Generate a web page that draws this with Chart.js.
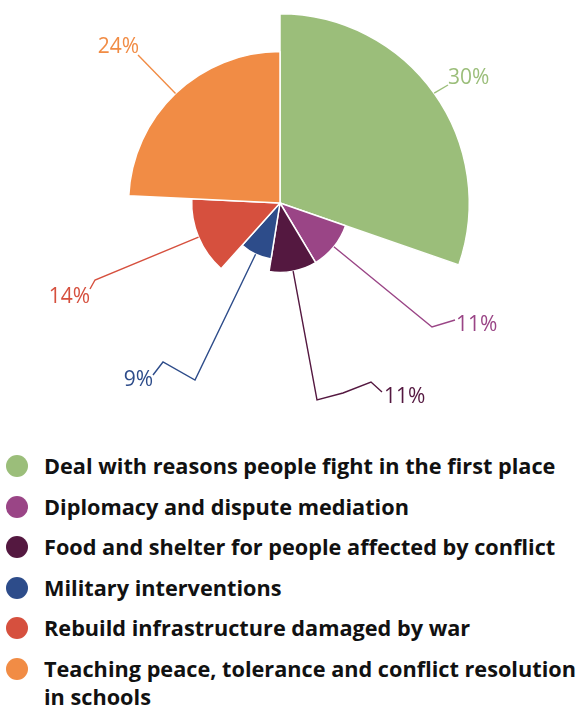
<!DOCTYPE html>
<html>
<head>
<meta charset="utf-8">
<script src="https://cdn.jsdelivr.net/npm/chart.js@4"></script>
<style>
body { margin: 0; background: #fff; font-family: "Open Sans", sans-serif; overflow: hidden; }
#wrap { position: relative; width: 579px; height: 430px; }
#legend { position: absolute; left: 0; top: 452px; width: 600px; }
.item { display: flex; align-items: flex-start; min-height: 40.5px; font-weight: 700; font-size: 21.7px; color: #111; line-height: 28px; }
.dot { flex: none; width: 22px; height: 22px; border-radius: 50%; margin: 3px 0 0 6px; }
.txt { margin-left: 16px; width: 540px; }
</style>
</head>
<body>
<div id="wrap"><canvas id="chart" width="579" height="430"></canvas></div>
<div id="legend"></div>
<script>
const categories = [
    'Deal with reasons people fight in the first place',
    'Diplomacy and dispute mediation',
    'Food and shelter for people affected by conflict',
    'Military interventions',
    'Rebuild infrastructure damaged by war',
    'Teaching peace, tolerance and conflict resolution in schools',
]
const shares = [30, 11, 11, 9, 14, 24]
const colors = ['#9bbe7a', '#9a4586', '#541840', '#2d4c8a', '#d6503e', '#f18c45']

// leader line bends and label anchors, relative to the pie centre (px)
const leaders = [
    {bends: [[168, -118]], label: [168, -125], align: 'left'},
    {bends: [[152, 124], [175, 117]], label: [176, 122], align: 'left'},
    {bends: [[37, 197], [63, 190], [91, 179], [102, 189]], label: [104, 194], align: 'left'},
    {bends: [[-85, 177], [-117, 159], [-127, 172]], label: [-127, 177], align: 'right'},
    {bends: [[-185, 77], [-190, 86]], label: [-190, 94], align: 'right'},
    {bends: [[-142, -148]], label: [-141, -156], align: 'right'},
]

// scale each slice's radius by its share
const radialSlices = {
    id: 'radialSlices',
    afterDatasetsUpdate(chart) {
        const maxShare = Math.max(...shares)
        chart.getDatasetMeta(0).data.forEach(function (arc, i) {
            arc.outerRadius = arc.outerRadius * shares[i] / maxShare
        })
    }
}

const leaderLabels = {
    id: 'leaderLabels',
    afterDatasetsDraw(chart) {
        const ctx = chart.ctx
        chart.getDatasetMeta(0).data.forEach(function (arc, i) {
            const mid = (arc.startAngle + arc.endAngle) / 2
            const cx = arc.x, cy = arc.y
            const lead = leaders[i]
            ctx.save()
            ctx.strokeStyle = colors[i]
            ctx.lineWidth = 1.4
            ctx.beginPath()
            ctx.moveTo(cx + Math.cos(mid) * arc.outerRadius, cy + Math.sin(mid) * arc.outerRadius)
            lead.bends.forEach(function (p) { ctx.lineTo(cx + p[0], cy + p[1]) })
            ctx.stroke()
            ctx.fillStyle = colors[i]
            ctx.font = '21px "Open Sans"'
            ctx.textAlign = lead.align
            ctx.textBaseline = 'middle'
            ctx.fillText(shares[i] + '%', cx + lead.label[0], cy + lead.label[1])
            ctx.restore()
        })
    }
}

const config = {
    type: 'pie',
    data: {
        labels: categories,
        datasets: [{
            data: shares,
            backgroundColor: colors,
            borderColor: '#ffffff',
            borderWidth: 1.5,
            hoverOffset: 0,
            hoverBorderWidth: 1.5,
        }]
    },
    options: {
        responsive: false,
        animation: false,
        events: [],
        layout: {padding: {left: 90, right: 109, top: 13, bottom: 37}},
        plugins: {
            legend: {display: false},
            tooltip: {enabled: false},
        },
    },
    plugins: [radialSlices, leaderLabels],
}

new Chart(document.querySelector('#chart'), config)

const legend = document.querySelector('#legend')
categories.forEach(function (name, i) {
    const item = document.createElement('div')
    item.className = 'item'
    item.innerHTML = `<span class="dot" style="background:${colors[i]}"></span><span class="txt">${name}</span>`
    legend.appendChild(item)
})
</script>
</body>
</html>
